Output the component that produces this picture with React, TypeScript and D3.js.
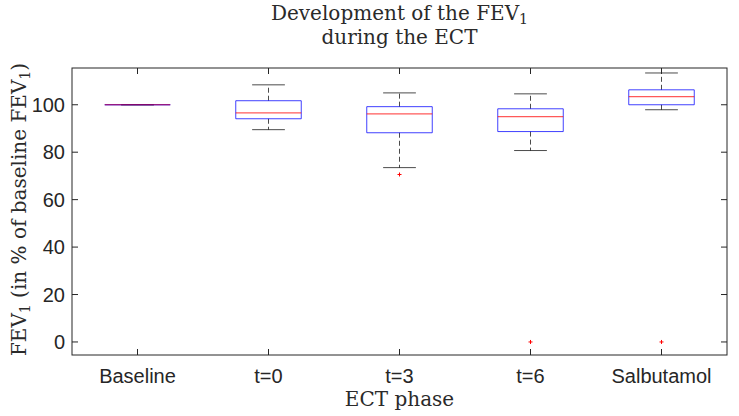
import React from "react";
import * as d3 from "d3";

const phases = ["Baseline", "t=0", "t=3", "t=6", "Salbutamol"];
const q1 = [100, 94.1, 88.2, 88.7, 100];
const medians = [100, 96.6, 96.2, 95, 103.4];
const q3 = [100, 101.7, 99.2, 98.3, 106.3];
const whiskerLow = [100, 89.5, 73.5, 80.7, 97.9];
const whiskerHigh = [100, 108.4, 105, 104.6, 113.4];
const outliers: number[][] = [[], [], [70.6], [0], [0]];
const yTicks = [0, 20, 40, 60, 80, 100];

const W = 739;
const H = 416;
const margin = { left: 72, right: 12, top: 68, bottom: 61 };

const serif = "'DejaVu Serif', 'Liberation Serif', serif";
const sans = "'Liberation Sans', Arial, sans-serif";

const App: React.FC = () => {
  const x0 = margin.left;
  const x1 = W - margin.right;
  const y0 = H - margin.bottom;
  const y1 = margin.top;

  const x = d3.scaleLinear().domain([0.5, 5.5]).range([x0, x1]);
  const y = d3.scaleLinear().domain([-5.5, 115.5]).range([y0, y1]);

  const step = x(2) - x(1);
  const half = step * 0.25;
  const capHalf = half * 0.5;
  const tick = 6;

  // box outline as a path so a zero-height box still shows its edges
  const boxPath = (i: number) => {
    const p = d3.path();
    const cx = x(i + 1);
    p.rect(cx - half, y(q3[i]), half * 2, y(q1[i]) - y(q3[i]));
    return p.toString();
  };

  return (
    <svg width={W} height={H} style={{ position: "absolute", left: 0, top: 0, background: "#fff" }}>
      {/* title */}
      <text x={(x0 + x1) / 2} y={20} textAnchor="middle" fontFamily={serif} fontSize={20} fill="#2a2a2a">
        Development of the FEV<tspan dy={4} fontSize={14}>1</tspan>
      </text>
      <text x={(x0 + x1) / 2} y={44} textAnchor="middle" fontFamily={serif} fontSize={20} fill="#2a2a2a">
        during the ECT
      </text>

      {/* boxes */}
      {phases.map((p, i) => {
        const cx = x(i + 1);
        return (
          <g key={p}>
            <line x1={cx} x2={cx} y1={y(q3[i])} y2={y(whiskerHigh[i])} stroke="#000" strokeDasharray="5,3" opacity={0.7} />
            <line x1={cx} x2={cx} y1={y(q1[i])} y2={y(whiskerLow[i])} stroke="#000" strokeDasharray="5,3" opacity={0.7} />
            <line x1={cx - capHalf} x2={cx + capHalf} y1={y(whiskerHigh[i])} y2={y(whiskerHigh[i])} stroke="#000" opacity={0.7} />
            <line x1={cx - capHalf} x2={cx + capHalf} y1={y(whiskerLow[i])} y2={y(whiskerLow[i])} stroke="#000" opacity={0.7} />
            <path d={boxPath(i)} fill="none" stroke="#0000ff" strokeOpacity={0.75} />
            <line x1={cx - half} x2={cx + half} y1={y(medians[i])} y2={y(medians[i])} stroke="#ff0000" strokeOpacity={0.65} strokeWidth={1.2} />
            {outliers[i].map((v, k) => (
              <g key={k} stroke="#ff0000" strokeWidth={1}>
                <line x1={cx - 2} x2={cx + 2} y1={y(v)} y2={y(v)} />
                <line x1={cx} x2={cx} y1={y(v) - 2} y2={y(v) + 2} />
              </g>
            ))}
          </g>
        );
      })}

      {/* axes frame */}
      <rect x={x0} y={y1} width={x1 - x0} height={y0 - y1} fill="none" stroke="#262626" strokeWidth={1} />

      {yTicks.map((t) => (
        <g key={t}>
          <line x1={x0} x2={x0 + tick} y1={y(t)} y2={y(t)} stroke="#262626" />
          <line x1={x1} x2={x1 - tick} y1={y(t)} y2={y(t)} stroke="#262626" />
          <text x={x0 - 7} y={y(t)} dy="0.36em" textAnchor="end" fontFamily={sans} fontSize={20} fill="#262626">
            {t}
          </text>
        </g>
      ))}

      {phases.map((p, i) => (
        <g key={p}>
          <line x1={x(i + 1)} x2={x(i + 1)} y1={y0} y2={y0 - tick} stroke="#262626" />
          <line x1={x(i + 1)} x2={x(i + 1)} y1={y1} y2={y1 + tick} stroke="#262626" />
          <text x={x(i + 1)} y={y0 + 28} textAnchor="middle" fontFamily={sans} fontSize={20} fill="#262626">
            {p}
          </text>
        </g>
      ))}

      {/* axis labels */}
      <text x={(x0 + x1) / 2} y={406} textAnchor="middle" fontFamily={serif} fontSize={20} fill="#2a2a2a">
        ECT phase
      </text>
      <text
        transform={`translate(26, ${(y0 + y1) / 2 - 2}) rotate(-90)`}
        textAnchor="middle"
        fontFamily={serif}
        fontSize={20}
        fill="#2a2a2a"
      >
        FEV<tspan dy={4} fontSize={14}>1</tspan>
        <tspan dy={-4}> (in % of baseline FEV</tspan>
        <tspan dy={4} fontSize={14}>1</tspan>
        <tspan dy={-4}>)</tspan>
      </text>
    </svg>
  );
};

export default App;
